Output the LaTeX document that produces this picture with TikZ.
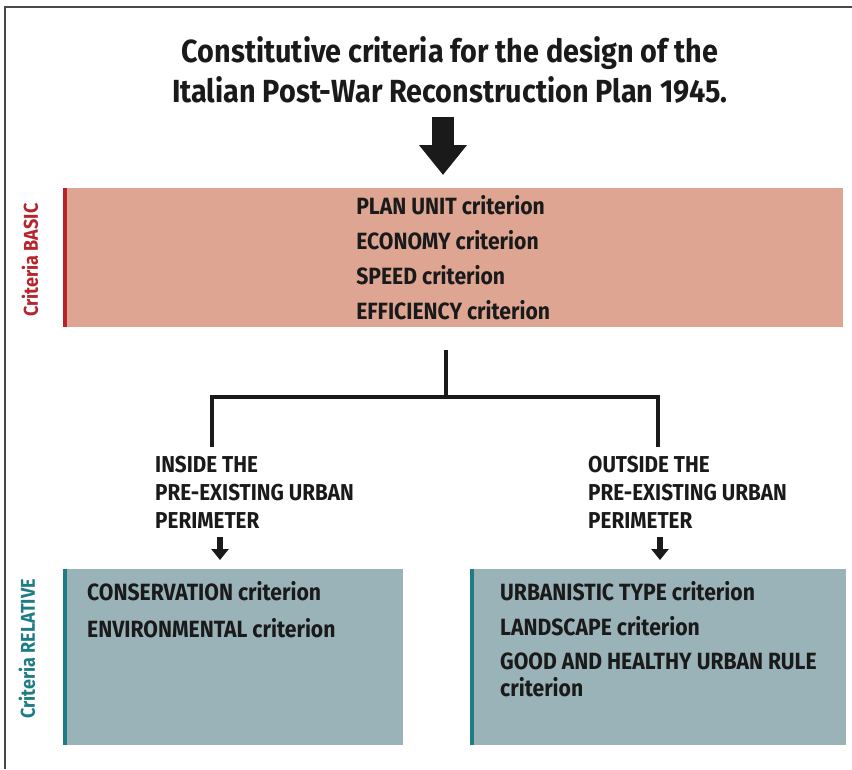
\documentclass[tikz,border=0pt]{standalone}
\usepackage{fontspec}
\setmainfont{Fira Sans}[FakeStretch=0.9]
\usetikzlibrary{arrows.meta,positioning,calc}
\definecolor{BasicFill}{RGB}{221,165,146}
\definecolor{BasicRed}{RGB}{184,36,43}
\definecolor{RelFill}{RGB}{154,179,184}
\definecolor{RelTeal}{RGB}{30,125,132}
\definecolor{InkGray}{RGB}{26,26,26}
\tikzset{
  titletext/.style={align=center,text=InkGray,
    font=\fontsize{32}{40}\selectfont\bfseries},
  basicbox/.style={fill=BasicFill,minimum width=780pt,minimum height=139pt,
    inner sep=0pt,align=left,text=InkGray,
    font=\fontsize{23.5}{35}\selectfont\bfseries},
  relbox/.style={fill=RelFill,minimum height=176pt,inner sep=0pt},
  reltext/.style={align=left,inner sep=0pt,text=InkGray,
    font=\fontsize{23.5}{27}\selectfont\bfseries},
  sidetext/.style={align=left,inner sep=0pt,text=InkGray,
    font=\fontsize{23}{28}\selectfont\bfseries},
  sidelabel/.style={rotate=90,inner sep=0pt,font=\fontsize{20}{20}\selectfont\bfseries},
  redbar/.style={line width=4pt,BasicRed},
  tealbar/.style={line width=4pt,RelTeal},
  branch/.style={line width=3.5pt,InkGray},
  bigarrow/.style={line width=22pt,InkGray,-{Triangle[width=46pt,length=30pt]}},
  smallarrow/.style={line width=6pt,InkGray,-{Triangle[width=17pt,length=11pt]}}
}

\begin{document}
\begin{tikzpicture}[x=1pt,y=1pt]
  \useasboundingbox (0,0) rectangle (852,-769);
  % frame
  \draw[line width=1.5pt,InkGray!80] (5,-769) -- (5,-7) -- (852,-7);

  \node[titletext] (title) at (450,-70)
    {Constitutive criteria for the design of the\\
     Italian Post-War Reconstruction Plan 1945.};
  \coordinate (arrtop) at (443,-117);
  \coordinate (arrtip) at (443,-175);
  \draw[bigarrow] (arrtop) -- (arrtip);

  % basic criteria
  \node[basicbox,anchor=north west] (basic) at (63,-188)
    {PLAN UNIT criterion\\ECONOMY criterion\\SPEED criterion\\EFFICIENCY criterion};
  \draw[redbar] ([xshift=2pt]basic.north west) -- ([xshift=2pt]basic.south west);
  \node[sidelabel,text=BasicRed] (basiclab) at (30,-260) {Criteria BASIC};

  % fork
  \coordinate (stem) at (446,-350);
  \coordinate (forkL) at (212,-447);
  \coordinate (forkR) at (658,-447);
  \draw[branch] (stem) -- ++(0,-47) -| (forkL);
  \draw[branch] (stem) ++(0,-47) -| (forkR);

  \node[sidetext,anchor=north west] (inside) at (155,-456)
    {INSIDE THE\\PRE-EXISTING URBAN\\PERIMETER};
  \node[sidetext,anchor=north west] (outside) at (588,-456)
    {OUTSIDE THE\\PRE-EXISTING URBAN\\PERIMETER};

  % relative criteria
  \node[relbox,minimum width=340pt,anchor=north west] (relL) at (63,-569) {};
  \node[relbox,minimum width=376pt,anchor=north west] (relR) at (470,-569) {};
  \draw[tealbar] ([xshift=2pt]relL.north west) -- ([xshift=2pt]relL.south west);
  \draw[tealbar] ([xshift=2pt]relR.north west) -- ([xshift=2pt]relR.south west);
  \node[sidelabel,text=RelTeal] (rellab) at (27,-649) {Criteria RELATIVE};

  \coordinate (tipL) at (220,-537);
  \coordinate (tipR) at (660,-537);
  \draw[smallarrow] (tipL) -- ([yshift=9pt]tipL |- relL.north);
  \draw[smallarrow] (tipR) -- ([yshift=9pt]tipR |- relR.north);

  \node[reltext,anchor=north west] (consv) at ($(relL.north west)+(24,-12)$)
    {CONSERVATION criterion\\[10pt]ENVIRONMENTAL criterion};
  \node[reltext,anchor=north west] (urban) at ($(relR.north west)+(30,-12)$)
    {URBANISTIC TYPE criterion\\[8pt]LANDSCAPE criterion\\[7pt]GOOD AND HEALTHY URBAN RULE\\criterion};
\end{tikzpicture}
\end{document}
